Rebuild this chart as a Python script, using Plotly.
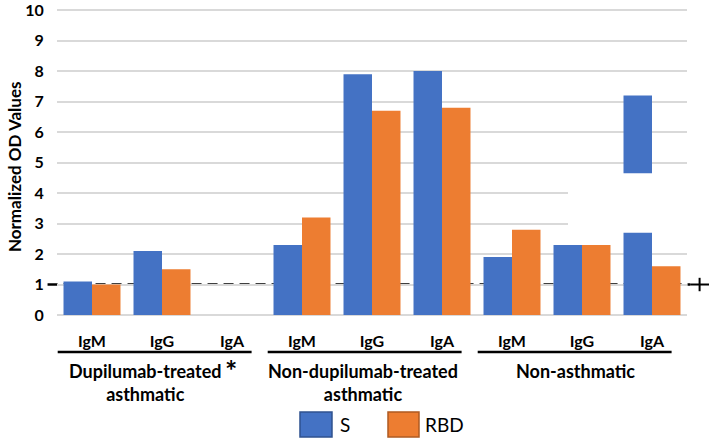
import plotly.graph_objects as go

# ---- data ----
groups = ["Dupilumab-treated<br>asthmatic", "Non-dupilumab-treated<br>asthmatic", "Non-asthmatic"]
isotypes = ["IgM", "IgG", "IgA"]
s_values = [1.1, 2.1, 0.0, 2.3, 7.9, 8.0, 1.9, 2.3, 7.2]
rbd_values = [1.0, 1.5, 0.0, 3.2, 6.7, 6.8, 2.8, 2.3, 1.6]
series_names = ["S", "RBD"]
y_title = "Normalized OD Values"
threshold = 1.0
axis_break = (2.7, 4.65)   # visual break on the last S bar
y_ticks = list(range(0, 11))

BLUE = "#4472C4"
ORANGE = "#ED7D31"
FONT = "Lato"

n = len(groups) * len(isotypes)
x_pos = list(range(n))
tick_text = isotypes * len(groups)

fig = go.Figure()
fig.add_trace(go.Bar(x=x_pos, y=s_values, name=series_names[0], marker_color=BLUE,
                     marker_line_width=0))
fig.add_trace(go.Bar(x=x_pos, y=rbd_values, name=series_names[1], marker_color=ORANGE,
                     marker_line_width=0))

# plot area: 0 at y=315px, 10 at y=10px -> 30.5 px/unit
Y_TOP = 10.3
plot_h = 305 / 10 * Y_TOP
top_m = 315 - plot_h
bot_m = 440 - 315


def py(pix):
    """vertical pixel (from top) -> paper coordinate"""
    return (315 - pix) / plot_h


def px(pix):
    """horizontal pixel (from left) -> paper coordinate"""
    return (pix - 57) / 630


shapes = []
# threshold dashed line (above grid, below bars)
shapes.append(dict(type="line", xref="paper", yref="y", x0=-0.015, x1=1.005,
                   y0=threshold, y1=threshold, layer="between",
                   line=dict(color="black", width=2.5, dash="10px,6px")))
# plus at the end of threshold line
shapes.append(dict(type="line", xref="paper", yref="y", x0=1.005, x1=1.035,
                   y0=threshold, y1=threshold, line=dict(color="black", width=2)))
shapes.append(dict(type="line", xref="paper", yref="y", x0=1.02, x1=1.02,
                   y0=threshold - 0.22, y1=threshold + 0.22, line=dict(color="black", width=2)))
# axis break white box
shapes.append(dict(type="rect", xref="x", yref="y", x0=6.8, x1=8.5,
                   y0=axis_break[0], y1=axis_break[1], layer="above",
                   fillcolor="white", line=dict(width=0)))
# group underlines
for g in range(len(groups)):
    shapes.append(dict(type="line", xref="x", yref="paper", x0=3 * g - 0.49, x1=3 * g + 2.28,
                       y0=py(352), y1=py(352), line=dict(color="black", width=2.5)))

annotations = []
label_x = [0.76, 3.87, 6.9]
for g, name in enumerate(groups):
    annotations.append(dict(x=label_x[g], y=py(358), xref="x", yref="paper", text="<b>%s</b>" % name,
                            showarrow=False, xanchor="center", yanchor="top",
                            font=dict(family=FONT, size=18, color="black")))
annotations.append(dict(x=1.99, y=py(370), xref="x", yref="paper", text="<b>*</b>",
                        showarrow=False, xanchor="center", yanchor="middle",
                        font=dict(family=FONT, size=29, color="black")))
# y-axis title
annotations.append(dict(x=px(14), y=py(167), xref="paper", yref="paper", text="<b>%s</b>" % y_title,
                        showarrow=False, xanchor="center", yanchor="middle", textangle=-90,
                        font=dict(family=FONT, size=17, color="black")))

# custom legend
leg = [(0.3857, 0.4365, 0.446, BLUE, "#2F528F"), (0.5254, 0.5746, 0.581, ORANGE, "#AE5A21")]
for (x0, x1, tx, fc, lc), nm in zip(leg, series_names):
    shapes.append(dict(type="rect", xref="paper", yref="paper", x0=x0, x1=x1, y0=py(437), y1=py(412),
                       fillcolor=fc, line=dict(color=lc, width=1.5)))
    annotations.append(dict(x=tx, y=py(425), xref="paper", yref="paper", text=nm, showarrow=False,
                            xanchor="left", yanchor="middle",
                            font=dict(family=FONT, size=19, color="black")))

fig.update_layout(
    width=709, height=440,
    margin=dict(l=57, r=22, t=top_m, b=bot_m, autoexpand=False),
    paper_bgcolor="white", plot_bgcolor="white",
    barmode="group", bargap=0.186, bargroupgap=0,
    showlegend=False,
    shapes=shapes, annotations=annotations,
    font=dict(family=FONT, color="black"),
)
fig.update_xaxes(range=[-0.5, n - 0.5], tickmode="array", tickvals=x_pos,
                 ticktext=["<b>%s</b>" % t for t in tick_text],
                 tickfont=dict(family=FONT, size=16, color="black"),
                 showgrid=False, zeroline=False, showline=False,
                 ticks="outside", ticklen=12, tickcolor="rgba(0,0,0,0)", automargin=False,
                 ticklabeloverflow="allow")
fig.update_yaxes(range=[0, Y_TOP], tickmode="array", tickvals=y_ticks,
                 ticktext=["<b>%d</b>" % v for v in y_ticks],
                 tickfont=dict(family=FONT, size=16, color="black"),
                 showgrid=True, gridcolor="#D9D9D9", gridwidth=1.5,
                 zeroline=True, zerolinecolor="#D9D9D9", zerolinewidth=1.5,
                 showline=False, ticks="outside", ticklen=9, tickcolor="rgba(0,0,0,0)",
                 automargin=False, ticklabeloverflow="allow")

fig.write_html("out.html", config={"displayModeBar": False},
               post_script="document.body.style.margin='0px';")
